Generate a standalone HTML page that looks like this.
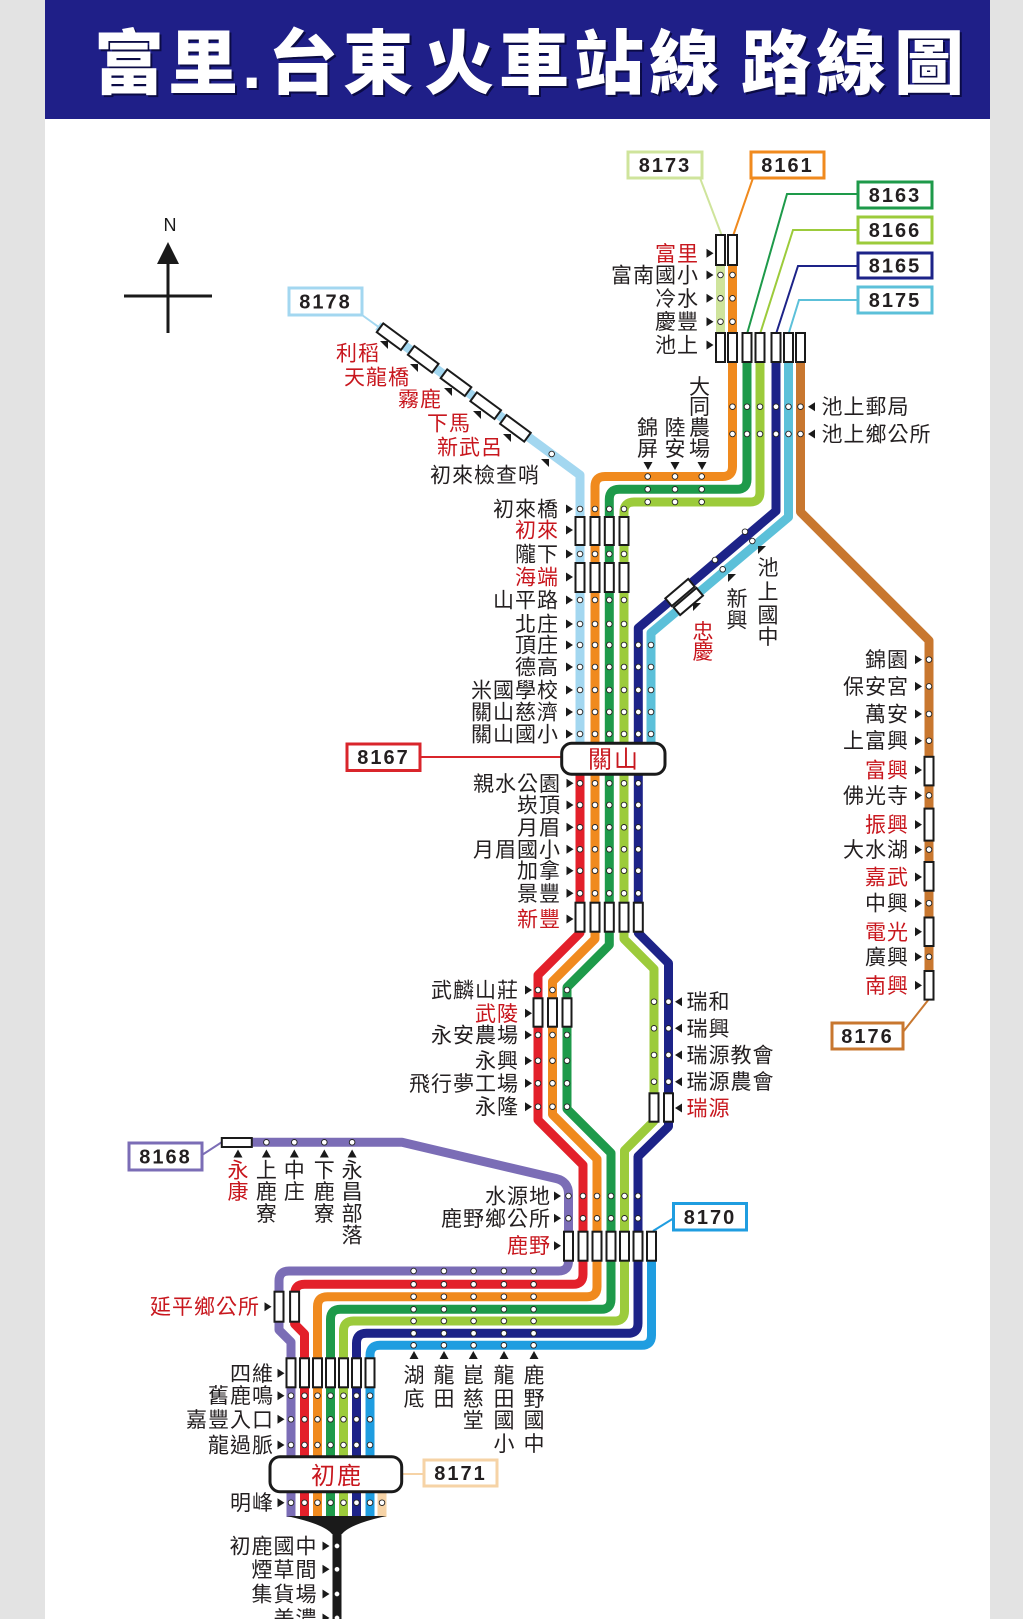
<!DOCTYPE html>
<html><head><meta charset="utf-8"><style>
html,body{margin:0;padding:0;background:#e3e3e3;}
svg{display:block}
text{font-family:"Liberation Sans","Noto Sans CJK TC",sans-serif;}
.l{font-size:21px;letter-spacing:1px;fill:#231f20}
.r{fill:#c8171e}
.v{font-size:21px;fill:#231f20;text-anchor:middle}
.e{text-anchor:end}
.n{font-family:"Liberation Sans",sans-serif;font-weight:bold;font-size:20px;letter-spacing:2px;fill:#231f20;text-anchor:middle}
.bx{fill:#fff;stroke:#1a1a1a;stroke-width:2}
.ln{fill:none;stroke-width:9;stroke-linejoin:round}
.th{fill:none;stroke-width:2}
.nb{fill:#fff;stroke-width:3}
</style></head><body>
<svg width="1023" height="1619" viewBox="0 0 1023 1619" xmlns="http://www.w3.org/2000/svg">
<defs>
<circle id="d" r="2.8" fill="#fff" stroke="#222" stroke-width="0.9"/>
<path id="tr" d="M0 -4.5L7 0L0 4.5Z" fill="#1a1a1a"/>
<path id="tl" d="M7 -4.5L0 0L7 4.5Z" fill="#1a1a1a"/>
<path id="td" d="M-4.5 -4L4.5 -4L0 4Z" fill="#1a1a1a"/>
<path id="tu" d="M-4.5 4L4.5 4L0 -4Z" fill="#1a1a1a"/>
<path id="tne" d="M-4 -4L4 -4L4 4Z" fill="#1a1a1a"/>
<path id="tnw" d="M-4 -4L4 -4L-4 4Z" fill="#1a1a1a"/>
</defs>
<rect width="1023" height="1619" fill="#e3e3e3"/>
<rect x="45" y="0" width="945" height="1619" fill="#fff"/>
<rect x="45" y="0" width="945" height="119" fill="#1f1f88"/>
<text x="96 170 244 270 345 426 501 576 651 743 818 896" y="90" font-size="70" font-weight="900" fill="#0b0b45">富里.台東火車站線路線圖</text>
<text x="94 168 242 268 343 424 499 574 649 741 816 894" y="88" font-size="70" font-weight="900" fill="#fff">富里.台東火車站線路線圖</text>

<!-- compass -->
<text x="170" y="231" font-size="18" text-anchor="middle" fill="#1a1a1a">N</text>
<path d="M168 242L157 264L179 264Z" fill="#1a1a1a"/>
<line x1="168" y1="262" x2="168" y2="333" stroke="#1a1a1a" stroke-width="3"/>
<line x1="124" y1="296" x2="212" y2="296" stroke="#1a1a1a" stroke-width="3"/>

<!-- thin connectors -->
<path class="th" stroke="#cfe49c" d="M700 178L722 236"/>
<path class="th" stroke="#f08a1e" d="M753 178L733 236"/>
<path class="th" stroke="#1e9a4a" d="M858 194H787L747 334"/>
<path class="th" stroke="#9ccb3b" d="M858 230H793L760 334"/>
<path class="th" stroke="#1d2388" d="M858 266H798L776 334"/>
<path class="th" stroke="#5cc0d9" d="M858 300H799L788.5 334"/>
<path class="th" stroke="#a3d7f0" d="M362 315L380 328"/>
<path class="th" stroke="#d9252b" d="M420 757H562"/>
<path class="th" stroke="#c8772f" d="M903 1032L929 999"/>
<path class="th" stroke="#7b6db6" d="M202 1155L222 1142"/>
<path class="th" stroke="#1f9de0" d="M674 1218L653 1231"/>
<path class="th" stroke="#f6d3a6" d="M402 1474H424"/>

<!-- thick lines -->
<path class="ln" stroke="#cfe49c" d="M720.5 245V350"/>
<path class="ln" stroke="#a3d7f0" d="M378 326L580 475V760"/>
<path class="ln" stroke="#5cc0d9" d="M788.5 345V517L651 633V760"/>
<path class="ln" stroke="#c8772f" d="M800.5 345V512L929 640.5V995"/>
<path class="ln" stroke="#f08a1e" d="M732.5 245V466.5Q732.5 476.5 722.5 476.5H605Q595 476.5 595 486.5V939L552.5 981.5V1114.5L597 1159V1286.7Q597 1296.7 587 1296.7H327.5Q317.5 1296.7 317.5 1306.7V1517"/>
<path class="ln" stroke="#1e9a4a" d="M747 345V479.3Q747 489.3 737 489.3H619.3Q609.3 489.3 609.3 499.3V945L567 987.3V1109L611 1153V1299.3Q611 1309.3 601 1309.3H340.5Q330.5 1309.3 330.5 1319.3V1517"/>
<path class="ln" stroke="#9ccb3b" d="M760 345V492Q760 502 750 502H634Q624 502 624 512V939L654 969V1121L624.5 1150.5V1311Q624.5 1321 614.5 1321H353.5Q343.5 1321 343.5 1331V1517"/>
<path class="ln" stroke="#1d2388" d="M776 345V511L638.3 628V933L668.5 963.2V1126.5L638 1156.5V1323.3Q638 1333.3 628 1333.3H366.5Q356.5 1333.3 356.5 1343.3V1517"/>
<path class="ln" stroke="#e3202a" d="M580 760V933L538 975V1120L583 1165V1274.3Q583 1284.3 573 1284.3H304.6Q294.6 1284.3 294.6 1294.3V1324L304.5 1334V1517"/>
<path class="ln" stroke="#7b6db6" d="M240 1142.3H402L556 1178.5Q568.5 1181.5 568.5 1194V1261Q568.5 1271 558.5 1271H289Q279 1271 279 1281V1330L291 1342V1517"/>
<path class="ln" stroke="#1f9de0" d="M651.5 1240V1335.3Q651.5 1345.3 641.5 1345.3H380Q370 1345.3 370 1355.3V1517"/>
<path class="ln" stroke="#f6d3a6" d="M382 1485V1517"/>
<path d="M286.5 1516H386.5Q350 1524 342 1534H332Q324 1524 286.5 1516Z" fill="#1a1a1a"/>
<rect x="332.5" y="1530" width="9" height="90" fill="#1a1a1a"/>

<!-- number boxes -->
<rect class="nb" stroke="#cfe49c" x="628" y="152" width="74" height="26"/><text class="n" x="665" y="172">8173</text>
<rect class="nb" stroke="#f08a1e" x="751" y="152" width="73" height="26"/><text class="n" x="787.5" y="172">8161</text>
<rect class="nb" stroke="#1e9a4a" x="858" y="182" width="74" height="26"/><text class="n" x="895" y="202">8163</text>
<rect class="nb" stroke="#9ccb3b" x="858" y="217" width="74" height="26"/><text class="n" x="895" y="237">8166</text>
<rect class="nb" stroke="#1d2388" x="858" y="253" width="74" height="25"/><text class="n" x="895" y="272.5">8165</text>
<rect class="nb" stroke="#5cc0d9" x="858" y="287" width="74" height="26"/><text class="n" x="895" y="307">8175</text>
<rect class="nb" stroke="#a3d7f0" x="289" y="288" width="73" height="27"/><text class="n" x="325.5" y="308.5">8178</text>
<rect class="nb" stroke="#d9252b" x="347" y="744" width="73" height="26.5"/><text class="n" x="383.5" y="764">8167</text>
<rect class="nb" stroke="#c8772f" x="832" y="1023" width="71" height="26"/><text class="n" x="867.5" y="1043">8176</text>
<rect class="nb" stroke="#7b6db6" x="129" y="1143" width="73" height="27"/><text class="n" x="165.5" y="1163.5">8168</text>
<rect class="nb" stroke="#1f9de0" x="673.5" y="1203.5" width="73" height="26.5"/><text class="n" x="710" y="1224">8170</text>
<rect class="nb" stroke="#f6d3a6" x="424" y="1460" width="73" height="26"/><text class="n" x="460.5" y="1480">8171</text>

<!-- station boxes -->
<g class="bx">
<rect x="716" y="235" width="9" height="30"/><rect x="728" y="235" width="9" height="30"/>
<rect x="716" y="333" width="9" height="29"/><rect x="728" y="333" width="9" height="29"/><rect x="742.5" y="333" width="9" height="29"/><rect x="755.5" y="333" width="9" height="29"/><rect x="771.5" y="333" width="9" height="29"/><rect x="784" y="333" width="9" height="29"/><rect x="796" y="333" width="9" height="29"/>
<rect x="575.5" y="517" width="9" height="28"/><rect x="590.5" y="517" width="9" height="28"/><rect x="604.8" y="517" width="9" height="28"/><rect x="619.5" y="517" width="9" height="28"/>
<rect x="575.5" y="563" width="9" height="29"/><rect x="590.5" y="563" width="9" height="29"/><rect x="604.8" y="563" width="9" height="29"/><rect x="619.5" y="563" width="9" height="29"/>
<rect x="575.5" y="902.7" width="9" height="29"/><rect x="590.5" y="902.7" width="9" height="29"/><rect x="604.8" y="902.7" width="9" height="29"/><rect x="619.5" y="902.7" width="9" height="29"/><rect x="633.8" y="902.7" width="9" height="29"/>
<rect x="533.5" y="998.3" width="9" height="28.4"/><rect x="548" y="998.3" width="9" height="28.4"/><rect x="562.5" y="998.3" width="9" height="28.4"/>
<rect x="649.5" y="1093.3" width="9" height="28.4"/><rect x="664" y="1093.3" width="9" height="28.4"/>
<rect x="564" y="1231.7" width="9" height="29"/><rect x="578.5" y="1231.7" width="9" height="29"/><rect x="592.5" y="1231.7" width="9" height="29"/><rect x="606.5" y="1231.7" width="9" height="29"/><rect x="620" y="1231.7" width="9" height="29"/><rect x="633.5" y="1231.7" width="9" height="29"/><rect x="647" y="1231.7" width="9" height="29"/>
<rect x="274.5" y="1291.7" width="9" height="30"/><rect x="290.1" y="1291.7" width="9" height="30"/>
<rect x="286.5" y="1358.3" width="9" height="29"/><rect x="300" y="1358.3" width="9" height="29"/><rect x="313" y="1358.3" width="9" height="29"/><rect x="326" y="1358.3" width="9" height="29"/><rect x="339" y="1358.3" width="9" height="29"/><rect x="352" y="1358.3" width="9" height="29"/><rect x="365.5" y="1358.3" width="9" height="29"/>
<rect x="924.5" y="756.8" width="9" height="28.6"/><rect x="924.5" y="808.6" width="9" height="32"/><rect x="924.5" y="862" width="9" height="28.7"/><rect x="924.5" y="917.5" width="9" height="28.5"/><rect x="924.5" y="971" width="9" height="28.6"/>
<rect x="221.8" y="1138" width="30" height="9"/>
<rect x="-15" y="-5.5" width="30" height="11" transform="translate(392.1 336.7) rotate(36.4)"/>
<rect x="-15" y="-5.5" width="30" height="11" transform="translate(423.2 359.3) rotate(36.4)"/>
<rect x="-15" y="-5.5" width="30" height="11" transform="translate(456 382.7) rotate(36.4)"/>
<rect x="-15" y="-5.5" width="30" height="11" transform="translate(485.7 405.7) rotate(36.4)"/>
<rect x="-15" y="-5.5" width="30" height="11" transform="translate(515.4 428.3) rotate(36.4)"/>
<rect x="-15" y="-5" width="30" height="10" transform="translate(680 592.5) rotate(-40.4)"/>
<rect x="-15" y="-5" width="30" height="10" transform="translate(688.3 601.5) rotate(-40.4)"/>
</g>

<!-- hub boxes -->
<rect x="561.7" y="743.3" width="103.3" height="31" rx="10" fill="#fff" stroke="#1a1a1a" stroke-width="3"/>
<text x="614" y="767.5" font-size="24" letter-spacing="2" text-anchor="middle" fill="#c8171e">關山</text>
<rect x="270" y="1456.7" width="131.7" height="35" rx="10" fill="#fff" stroke="#1a1a1a" stroke-width="3"/>
<text x="337" y="1484" font-size="24" letter-spacing="2" text-anchor="middle" fill="#c8171e">初鹿</text>

<!-- dots -->
<use href="#d" x="720.5" y="275"/><use href="#d" x="732.5" y="275"/><use href="#d" x="720.5" y="298.3"/><use href="#d" x="732.5" y="298.3"/><use href="#d" x="720.5" y="321.7"/><use href="#d" x="732.5" y="321.7"/>
<use href="#d" x="732.5" y="406.7"/><use href="#d" x="747" y="406.7"/><use href="#d" x="760" y="406.7"/><use href="#d" x="776" y="406.7"/><use href="#d" x="788.5" y="406.7"/><use href="#d" x="800.5" y="406.7"/>
<use href="#d" x="732.5" y="434"/><use href="#d" x="747" y="434"/><use href="#d" x="760" y="434"/><use href="#d" x="776" y="434"/><use href="#d" x="788.5" y="434"/><use href="#d" x="800.5" y="434"/>
<use href="#d" x="647.7" y="476.5"/><use href="#d" x="675" y="476.5"/><use href="#d" x="701.7" y="476.5"/>
<use href="#d" x="647.7" y="489.3"/><use href="#d" x="675" y="489.3"/><use href="#d" x="701.7" y="489.3"/>
<use href="#d" x="647.7" y="502"/><use href="#d" x="675" y="502"/><use href="#d" x="701.7" y="502"/>
<use href="#d" x="551.7" y="454"/>
<use href="#d" x="580" y="509"/><use href="#d" x="595" y="509"/><use href="#d" x="609.3" y="509"/><use href="#d" x="624" y="509"/>
<use href="#d" x="580" y="554"/><use href="#d" x="595" y="554"/><use href="#d" x="609.3" y="554"/><use href="#d" x="624" y="554"/>
<use href="#d" x="580" y="600"/><use href="#d" x="595" y="600"/><use href="#d" x="609.3" y="600"/><use href="#d" x="624" y="600"/>
<use href="#d" x="580" y="624"/><use href="#d" x="595" y="624"/><use href="#d" x="609.3" y="624"/><use href="#d" x="624" y="624"/>
<use href="#d" x="580" y="645"/><use href="#d" x="595" y="645"/><use href="#d" x="609.3" y="645"/><use href="#d" x="624" y="645"/><use href="#d" x="638.3" y="645"/><use href="#d" x="651" y="645"/>
<use href="#d" x="580" y="667"/><use href="#d" x="595" y="667"/><use href="#d" x="609.3" y="667"/><use href="#d" x="624" y="667"/><use href="#d" x="638.3" y="667"/><use href="#d" x="651" y="667"/>
<use href="#d" x="580" y="690"/><use href="#d" x="595" y="690"/><use href="#d" x="609.3" y="690"/><use href="#d" x="624" y="690"/><use href="#d" x="638.3" y="690"/><use href="#d" x="651" y="690"/>
<use href="#d" x="580" y="712"/><use href="#d" x="595" y="712"/><use href="#d" x="609.3" y="712"/><use href="#d" x="624" y="712"/><use href="#d" x="638.3" y="712"/><use href="#d" x="651" y="712"/>
<use href="#d" x="580" y="734"/><use href="#d" x="595" y="734"/><use href="#d" x="609.3" y="734"/><use href="#d" x="624" y="734"/><use href="#d" x="638.3" y="734"/><use href="#d" x="651" y="734"/>
<use href="#d" x="745" y="531.7"/><use href="#d" x="715" y="560"/><use href="#d" x="752.3" y="541"/><use href="#d" x="722.7" y="569.3"/>
<use href="#d" x="929" y="659.6"/><use href="#d" x="929" y="686.4"/><use href="#d" x="929" y="714"/><use href="#d" x="929" y="740.7"/><use href="#d" x="929" y="795.4"/><use href="#d" x="929" y="849.6"/><use href="#d" x="929" y="903.2"/><use href="#d" x="929" y="956.8"/>
<use href="#d" x="580" y="783.3"/><use href="#d" x="595" y="783.3"/><use href="#d" x="609.3" y="783.3"/><use href="#d" x="624" y="783.3"/><use href="#d" x="638.3" y="783.3"/>
<use href="#d" x="580" y="805"/><use href="#d" x="595" y="805"/><use href="#d" x="609.3" y="805"/><use href="#d" x="624" y="805"/><use href="#d" x="638.3" y="805"/>
<use href="#d" x="580" y="827.3"/><use href="#d" x="595" y="827.3"/><use href="#d" x="609.3" y="827.3"/><use href="#d" x="624" y="827.3"/><use href="#d" x="638.3" y="827.3"/>
<use href="#d" x="580" y="849.3"/><use href="#d" x="595" y="849.3"/><use href="#d" x="609.3" y="849.3"/><use href="#d" x="624" y="849.3"/><use href="#d" x="638.3" y="849.3"/>
<use href="#d" x="580" y="870.7"/><use href="#d" x="595" y="870.7"/><use href="#d" x="609.3" y="870.7"/><use href="#d" x="624" y="870.7"/><use href="#d" x="638.3" y="870.7"/>
<use href="#d" x="580" y="893.3"/><use href="#d" x="595" y="893.3"/><use href="#d" x="609.3" y="893.3"/><use href="#d" x="624" y="893.3"/><use href="#d" x="638.3" y="893.3"/>
<use href="#d" x="538" y="990"/><use href="#d" x="552.5" y="990"/><use href="#d" x="567" y="990"/>
<use href="#d" x="538" y="1035"/><use href="#d" x="552.5" y="1035"/><use href="#d" x="567" y="1035"/>
<use href="#d" x="538" y="1060.7"/><use href="#d" x="552.5" y="1060.7"/><use href="#d" x="567" y="1060.7"/>
<use href="#d" x="538" y="1083.3"/><use href="#d" x="552.5" y="1083.3"/><use href="#d" x="567" y="1083.3"/>
<use href="#d" x="538" y="1106.7"/><use href="#d" x="552.5" y="1106.7"/><use href="#d" x="567" y="1106.7"/>
<use href="#d" x="654" y="1001.7"/><use href="#d" x="668.5" y="1001.7"/><use href="#d" x="654" y="1028.3"/><use href="#d" x="668.5" y="1028.3"/><use href="#d" x="654" y="1055"/><use href="#d" x="668.5" y="1055"/><use href="#d" x="654" y="1081.7"/><use href="#d" x="668.5" y="1081.7"/>
<use href="#d" x="568.5" y="1196"/><use href="#d" x="583" y="1196"/><use href="#d" x="597" y="1196"/><use href="#d" x="611" y="1196"/><use href="#d" x="624.5" y="1196"/><use href="#d" x="638" y="1196"/>
<use href="#d" x="568.5" y="1218.3"/><use href="#d" x="583" y="1218.3"/><use href="#d" x="597" y="1218.3"/><use href="#d" x="611" y="1218.3"/><use href="#d" x="624.5" y="1218.3"/><use href="#d" x="638" y="1218.3"/>
<use href="#d" x="266.4" y="1142.3"/><use href="#d" x="294.3" y="1142.3"/><use href="#d" x="324.3" y="1142.3"/><use href="#d" x="352.1" y="1142.3"/>
<g>
<use href="#d" x="413.6" y="1271"/><use href="#d" x="443.9" y="1271"/><use href="#d" x="473.6" y="1271"/><use href="#d" x="503.9" y="1271"/><use href="#d" x="533.6" y="1271"/>
<use href="#d" x="413.6" y="1284.3"/><use href="#d" x="443.9" y="1284.3"/><use href="#d" x="473.6" y="1284.3"/><use href="#d" x="503.9" y="1284.3"/><use href="#d" x="533.6" y="1284.3"/>
<use href="#d" x="413.6" y="1296.7"/><use href="#d" x="443.9" y="1296.7"/><use href="#d" x="473.6" y="1296.7"/><use href="#d" x="503.9" y="1296.7"/><use href="#d" x="533.6" y="1296.7"/>
<use href="#d" x="413.6" y="1309.3"/><use href="#d" x="443.9" y="1309.3"/><use href="#d" x="473.6" y="1309.3"/><use href="#d" x="503.9" y="1309.3"/><use href="#d" x="533.6" y="1309.3"/>
<use href="#d" x="413.6" y="1321"/><use href="#d" x="443.9" y="1321"/><use href="#d" x="473.6" y="1321"/><use href="#d" x="503.9" y="1321"/><use href="#d" x="533.6" y="1321"/>
<use href="#d" x="413.6" y="1333.3"/><use href="#d" x="443.9" y="1333.3"/><use href="#d" x="473.6" y="1333.3"/><use href="#d" x="503.9" y="1333.3"/><use href="#d" x="533.6" y="1333.3"/>
<use href="#d" x="413.6" y="1345.3"/><use href="#d" x="443.9" y="1345.3"/><use href="#d" x="473.6" y="1345.3"/><use href="#d" x="503.9" y="1345.3"/><use href="#d" x="533.6" y="1345.3"/>
</g>
<use href="#d" x="291" y="1395.7"/><use href="#d" x="304.5" y="1395.7"/><use href="#d" x="317.5" y="1395.7"/><use href="#d" x="330.5" y="1395.7"/><use href="#d" x="343.5" y="1395.7"/><use href="#d" x="356.5" y="1395.7"/><use href="#d" x="370" y="1395.7"/>
<use href="#d" x="291" y="1419.3"/><use href="#d" x="304.5" y="1419.3"/><use href="#d" x="317.5" y="1419.3"/><use href="#d" x="330.5" y="1419.3"/><use href="#d" x="343.5" y="1419.3"/><use href="#d" x="356.5" y="1419.3"/><use href="#d" x="370" y="1419.3"/>
<use href="#d" x="291" y="1445"/><use href="#d" x="304.5" y="1445"/><use href="#d" x="317.5" y="1445"/><use href="#d" x="330.5" y="1445"/><use href="#d" x="343.5" y="1445"/><use href="#d" x="356.5" y="1445"/><use href="#d" x="370" y="1445"/>
<use href="#d" x="291" y="1502.7"/><use href="#d" x="304.5" y="1502.7"/><use href="#d" x="317.5" y="1502.7"/><use href="#d" x="330.5" y="1502.7"/><use href="#d" x="343.5" y="1502.7"/><use href="#d" x="356.5" y="1502.7"/><use href="#d" x="370" y="1502.7"/><use href="#d" x="382" y="1502.7"/>
<use href="#d" x="337" y="1546"/><use href="#d" x="337" y="1569.3"/><use href="#d" x="337" y="1594"/><use href="#d" x="337" y="1618"/>

<!-- triangles -->
<use href="#tr" x="706.5" y="253.3"/><use href="#tr" x="706.5" y="275"/><use href="#tr" x="706.5" y="298.3"/><use href="#tr" x="706.5" y="321.7"/><use href="#tr" x="706.5" y="345"/>
<use href="#tl" x="808" y="406.7"/><use href="#tl" x="808" y="434"/>
<use href="#td" x="648" y="466"/><use href="#td" x="675" y="466"/><use href="#td" x="702" y="466"/>
<use href="#tne" x="384" y="345"/><use href="#tne" x="414" y="368"/><use href="#tne" x="448" y="392"/><use href="#tne" x="477" y="415"/><use href="#tne" x="507" y="438"/><use href="#tne" x="545" y="463"/>
<use href="#tr" x="566" y="509"/><use href="#tr" x="566" y="530"/><use href="#tr" x="566" y="554"/><use href="#tr" x="566" y="577"/><use href="#tr" x="566" y="600"/><use href="#tr" x="566" y="624"/><use href="#tr" x="566" y="645"/><use href="#tr" x="566" y="667"/><use href="#tr" x="566" y="690"/><use href="#tr" x="566" y="712"/><use href="#tr" x="566" y="734"/>
<use href="#tnw" x="697" y="607"/><use href="#tnw" x="732" y="578"/><use href="#tnw" x="762" y="550"/>
<use href="#tr" x="915" y="659.6"/><use href="#tr" x="915" y="686.4"/><use href="#tr" x="915" y="714"/><use href="#tr" x="915" y="740.7"/><use href="#tr" x="915" y="770"/><use href="#tr" x="915" y="795.4"/><use href="#tr" x="915" y="824.6"/><use href="#tr" x="915" y="849.6"/><use href="#tr" x="915" y="877"/><use href="#tr" x="915" y="903.2"/><use href="#tr" x="915" y="931.8"/><use href="#tr" x="915" y="956.8"/><use href="#tr" x="915" y="985.4"/>
<use href="#tr" x="566.5" y="783.3"/><use href="#tr" x="566.5" y="805"/><use href="#tr" x="566.5" y="827.3"/><use href="#tr" x="566.5" y="849.3"/><use href="#tr" x="566.5" y="870.7"/><use href="#tr" x="566.5" y="893.3"/><use href="#tr" x="566.5" y="919"/>
<use href="#tr" x="525" y="990"/><use href="#tr" x="525" y="1013.3"/><use href="#tr" x="525" y="1035"/><use href="#tr" x="525" y="1060.7"/><use href="#tr" x="525" y="1083.3"/><use href="#tr" x="525" y="1106.7"/>
<use href="#tl" x="675" y="1001.7"/><use href="#tl" x="675" y="1028.3"/><use href="#tl" x="675" y="1055"/><use href="#tl" x="675" y="1081.7"/><use href="#tl" x="675" y="1108"/>
<use href="#tr" x="554" y="1196"/><use href="#tr" x="554" y="1218.3"/><use href="#tr" x="554" y="1245.7"/>
<use href="#tu" x="238" y="1153.5"/><use href="#tu" x="266.4" y="1153.5"/><use href="#tu" x="294.3" y="1153.5"/><use href="#tu" x="324.3" y="1153.5"/><use href="#tu" x="352.1" y="1153.5"/>
<use href="#tr" x="264.5" y="1306.7"/>
<use href="#tu" x="414" y="1355"/><use href="#tu" x="444" y="1355"/><use href="#tu" x="473.3" y="1355"/><use href="#tu" x="504" y="1355"/><use href="#tu" x="534" y="1355"/>
<use href="#tr" x="277.5" y="1373.3"/><use href="#tr" x="277.5" y="1395.7"/><use href="#tr" x="277.5" y="1419.3"/><use href="#tr" x="277.5" y="1445"/><use href="#tr" x="277.5" y="1502.7"/>
<use href="#tr" x="322.5" y="1546"/><use href="#tr" x="322.5" y="1569.3"/><use href="#tr" x="322.5" y="1594"/><use href="#tr" x="322.5" y="1618"/>

<!-- labels -->
<g class="l e">
<text x="699" y="260.8" class="r">富里</text><text x="699" y="282.5">富南國小</text><text x="699" y="305.8">冷水</text><text x="699" y="329.2">慶豐</text><text x="699" y="352.5">池上</text>
<text x="380" y="360.5" class="r">利稻</text><text x="410" y="384.5" class="r">天龍橋</text><text x="442" y="406.5" class="r">霧鹿</text><text x="471" y="430.5" class="r">下馬</text><text x="503" y="454.5" class="r">新武呂</text><text x="540" y="482.5">初來檢查哨</text>
<text x="559" y="516.5">初來橋</text><text x="559" y="537.5" class="r">初來</text><text x="559" y="561.5">隴下</text><text x="559" y="584.5" class="r">海端</text><text x="559" y="607.5">山平路</text><text x="559" y="631.5">北庄</text><text x="559" y="652.5">頂庄</text><text x="559" y="674.5">德高</text><text x="559" y="697.5">米國學校</text><text x="559" y="719.5">關山慈濟</text><text x="559" y="741.5">關山國小</text>
<text x="909" y="667.1">錦園</text><text x="909" y="693.9">保安宮</text><text x="909" y="721.5">萬安</text><text x="909" y="748.2">上富興</text><text x="909" y="777.5" class="r">富興</text><text x="909" y="802.9">佛光寺</text><text x="909" y="832.1" class="r">振興</text><text x="909" y="857.1">大水湖</text><text x="909" y="884.5" class="r">嘉武</text><text x="909" y="910.7">中興</text><text x="909" y="939.3" class="r">電光</text><text x="909" y="964.3">廣興</text><text x="909" y="992.9" class="r">南興</text>
<text x="561" y="790.8">親水公園</text><text x="561" y="812.5">崁頂</text><text x="561" y="834.8">月眉</text><text x="561" y="856.8">月眉國小</text><text x="561" y="878.2">加拿</text><text x="561" y="900.8">景豐</text><text x="561" y="926.5" class="r">新豐</text>
<text x="519" y="997.5">武麟山莊</text><text x="519" y="1020.8" class="r">武陵</text><text x="519" y="1042.5">永安農場</text><text x="519" y="1068.2">永興</text><text x="519" y="1090.8">飛行夢工場</text><text x="519" y="1114.2">永隆</text>
<text x="551" y="1203.5">水源地</text><text x="551" y="1225.8">鹿野鄉公所</text><text x="551" y="1253.2" class="r">鹿野</text>
<text x="260" y="1314.2" class="r">延平鄉公所</text>
<text x="274" y="1380.8">四維</text><text x="274" y="1403.2">舊鹿鳴</text><text x="274" y="1426.8">嘉豐入口</text><text x="274" y="1452.5">龍過脈</text><text x="274" y="1510.2">明峰</text>
<text x="317.5" y="1553.5">初鹿國中</text><text x="317.5" y="1576.8">煙草間</text><text x="317.5" y="1601.5">集貨場</text><text x="317.5" y="1626">美濃</text>
</g>
<g class="l">
<text x="821.5" y="414.2">池上郵局</text><text x="821.5" y="441.5">池上鄉公所</text>
<text x="686.5" y="1009.2">瑞和</text><text x="686.5" y="1035.8">瑞興</text><text x="686.5" y="1062.5">瑞源教會</text><text x="686.5" y="1089.2">瑞源農會</text><text x="686.5" y="1115.5" class="r">瑞源</text>
</g>
<g class="v">
<text x="647.5" y="434.8">錦</text><text x="647.5" y="455.8">屏</text>
<text x="675" y="434.8">陸</text><text x="675" y="455.8">安</text>
<text x="699.5" y="394.2">大</text><text x="699.5" y="414.2">同</text><text x="699.5" y="434.8">農</text><text x="699.5" y="455.8">場</text>
<text x="703" y="639.2" class="r">忠</text><text x="703" y="659.2" class="r">慶</text>
<text x="737" y="605.8">新</text><text x="737" y="627.5">興</text>
<text x="768" y="574.8">池</text><text x="768" y="599.2">上</text><text x="768" y="622.5">國</text><text x="768" y="644.2">中</text>
<text x="238" y="1177.5" class="r">永</text><text x="238" y="1199.2" class="r">康</text>
<text x="266.4" y="1177.5">上</text><text x="266.4" y="1199.2">鹿</text><text x="266.4" y="1220.8">寮</text>
<text x="294.3" y="1177.5">中</text><text x="294.3" y="1199.2">庄</text>
<text x="324.3" y="1177.5">下</text><text x="324.3" y="1199.2">鹿</text><text x="324.3" y="1220.8">寮</text>
<text x="352.1" y="1177.5">永</text><text x="352.1" y="1199.2">昌</text><text x="352.1" y="1220.8">部</text><text x="352.1" y="1242.5">落</text>
<text x="414" y="1382.5">湖</text><text x="414" y="1405.8">底</text>
<text x="444" y="1382.5">龍</text><text x="444" y="1405.8">田</text>
<text x="473.3" y="1382.5">崑</text><text x="473.3" y="1405.8">慈</text><text x="473.3" y="1427.5">堂</text>
<text x="504" y="1382.5">龍</text><text x="504" y="1405.8">田</text><text x="504" y="1427.5">國</text><text x="504" y="1450.8">小</text>
<text x="534" y="1382.5">鹿</text><text x="534" y="1405.8">野</text><text x="534" y="1427.5">國</text><text x="534" y="1450.8">中</text>
</g>
</svg>
</body></html>
